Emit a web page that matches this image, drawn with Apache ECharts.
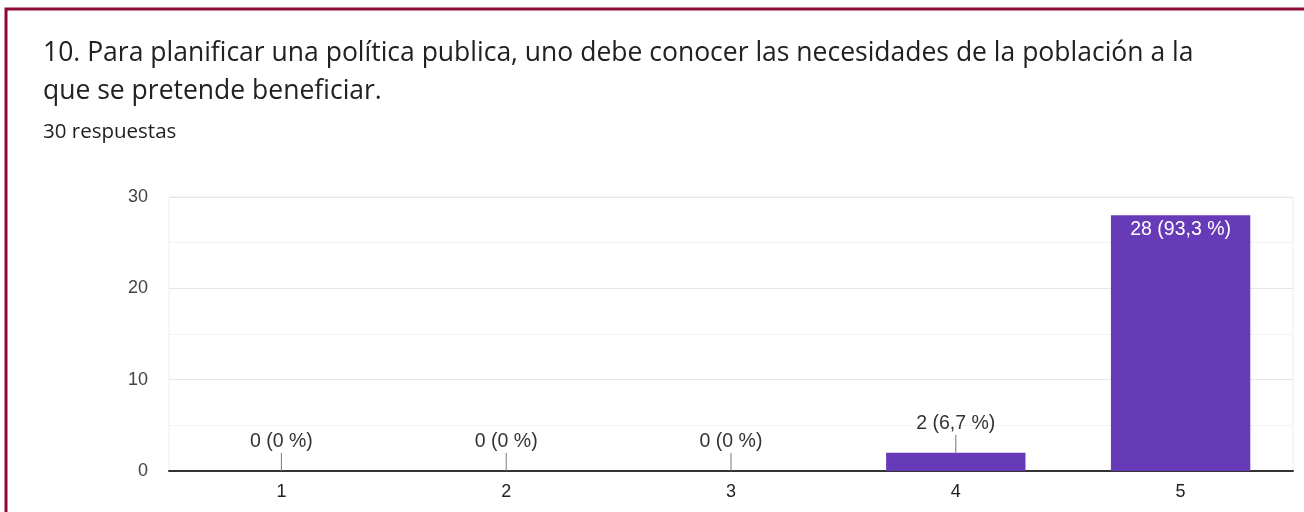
<!DOCTYPE html>
<html><head><meta charset="utf-8">
<script src="https://cdn.jsdelivr.net/npm/echarts@6/dist/echarts.min.js"></script>
<style>html,body{margin:0;padding:0;background:#fff}#c{width:1304px;height:512px}</style>
</head><body><div id="c"></div>
<script>
const titleText = '10. Para planificar una política publica, uno debe conocer las necesidades de la población a la\nque se pretende beneficiar.';
const subtitleText = '30 respuestas';
const categories = ['1', '2', '3', '4', '5'];
const values = [0, 0, 0, 2, 28];
const total = 30;
const yTicks = [0, 10, 20, 30];

function pct(v) {
  return (Math.round(v / total * 1000) / 10).toString().replace('.', ',') + ' %';
}

const chart = echarts.init(document.getElementById('c'));
chart.setOption({
  animation: false,
  textStyle: { fontFamily: 'Liberation Sans, Arial, sans-serif' },
  title: [
    { text: titleText, left: 43, top: 34, padding: 0,
      textStyle: { fontFamily: 'Open Sans', fontSize: 26.5, fontWeight: 'normal', color: '#202124', lineHeight: 38 } },
    { text: subtitleText, left: 43, top: 120, padding: 0,
      textStyle: { fontFamily: 'Open Sans', fontSize: 20.5, fontWeight: 'normal', color: '#202124', lineHeight: 24 } }
  ],
  graphic: [{
    type: 'polyline', silent: true,
    shape: { points: [[6, 520], [6, 9], [1310, 9]] },
    style: { stroke: '#8b0a39', lineWidth: 3, fill: null }
  }],
  grid: { left: 169, right: 11, top: 197, bottom: 41, show: true, borderColor: '#ececec', borderWidth: 1 },
  xAxis: {
    type: 'category', data: categories,
    axisLine: { lineStyle: { color: '#333', width: 2 } },
    axisTick: { show: false },
    axisLabel: { color: '#222', fontSize: 18, margin: 12 }
  },
  yAxis: {
    type: 'value', min: yTicks[0], max: yTicks[yTicks.length - 1], interval: 10,
    axisLine: { show: false }, axisTick: { show: false },
    axisLabel: { color: '#444', fontSize: 18, margin: 21 },
    splitLine: { lineStyle: { color: '#e6e6e6' } },
    minorTick: { show: false, splitNumber: 2 },
    minorSplitLine: { show: true, lineStyle: { color: '#f2f2f2' } }
  },
  series: [{
    type: 'bar', data: values.map((v, i) => {
      const inside = v / total > 0.5;
      return {
        value: v,
        label: inside ? {
          show: true, position: 'insideTop', distance: 4, color: '#fff', fontSize: 19.5,
          formatter: p => p.value + ' (' + pct(p.value) + ')'
        } : {
          show: true, position: 'top', distance: 0, color: '#333', fontSize: 19.5,
          formatter: p => '{t|' + p.value + ' (' + pct(p.value) + ')}\n{l| }',
          rich: {
            t: { fontSize: 19.5, color: '#333', lineHeight: 22 },
            l: { width: 1, height: 18, backgroundColor: '#777', fontSize: 1, lineHeight: 18 }
          }
        }
      };
    }),
    barWidth: '62%',
    itemStyle: { color: '#673ab7' }
  }]
});
</script></body></html>
